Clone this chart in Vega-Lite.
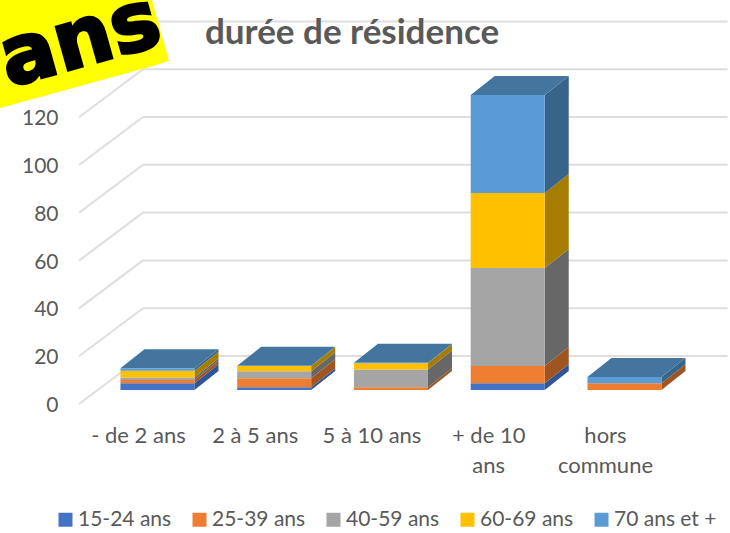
{
"$schema":"https://vega.github.io/schema/vega-lite/v6.json",
"width":651,"height":404,
"autosize":{"type":"none"},
"padding":{"left":79,"top":0,"right":0,"bottom":129},
"background":"white",
"view":{"stroke":null},
"title":{"text":"durée de résidence","anchor":"start","frame":"group","dx":126,"dy":75,"fontSize":35,"font":"Lato","fontWeight":"bold","color":"#595959"},
"datasets":{
"barres":[
{"duree":"- de 2 ans","ordre":0,"age":"15-24 ans","valeur":2.8},
{"duree":"- de 2 ans","ordre":0,"age":"25-39 ans","valeur":1.4},
{"duree":"- de 2 ans","ordre":0,"age":"40-59 ans","valeur":1},
{"duree":"- de 2 ans","ordre":0,"age":"60-69 ans","valeur":2.9},
{"duree":"- de 2 ans","ordre":0,"age":"70 ans et +","valeur":1},
{"duree":"2 à 5 ans","ordre":1,"age":"15-24 ans","valeur":1.1},
{"duree":"2 à 5 ans","ordre":1,"age":"25-39 ans","valeur":3.8},
{"duree":"2 à 5 ans","ordre":1,"age":"40-59 ans","valeur":2.9},
{"duree":"2 à 5 ans","ordre":1,"age":"60-69 ans","valeur":2.2},
{"duree":"2 à 5 ans","ordre":1,"age":"70 ans et +","valeur":0.1},
{"duree":"5 à 10 ans","ordre":2,"age":"15-24 ans","valeur":0},
{"duree":"5 à 10 ans","ordre":2,"age":"25-39 ans","valeur":1.1},
{"duree":"5 à 10 ans","ordre":2,"age":"40-59 ans","valeur":7.5},
{"duree":"5 à 10 ans","ordre":2,"age":"60-69 ans","valeur":2.6},
{"duree":"5 à 10 ans","ordre":2,"age":"70 ans et +","valeur":0.2},
{"duree":"+ de 10 ans","ordre":3,"age":"15-24 ans","valeur":2.8},
{"duree":"+ de 10 ans","ordre":3,"age":"25-39 ans","valeur":7.2},
{"duree":"+ de 10 ans","ordre":3,"age":"40-59 ans","valeur":41},
{"duree":"+ de 10 ans","ordre":3,"age":"60-69 ans","valeur":31.4},
{"duree":"+ de 10 ans","ordre":3,"age":"70 ans et +","valeur":41},
{"duree":"hors commune","ordre":4,"age":"15-24 ans","valeur":0},
{"duree":"hors commune","ordre":4,"age":"25-39 ans","valeur":2.8},
{"duree":"hors commune","ordre":4,"age":"40-59 ans","valeur":0},
{"duree":"hors commune","ordre":4,"age":"60-69 ans","valeur":0},
{"duree":"hors commune","ordre":4,"age":"70 ans et +","valeur":2.6}
],
"grille":[{"t":0},{"t":20},{"t":40},{"t":60},{"t":80},{"t":100},{"t":120},{"t":140}],
"bandeau":[{"a":-1.182,"bas":123.8,"haut":169.04},{"a":0.12,"bas":141.3,"haut":169.04},{"a":0.2655,"bas":143.5,"haut":143.5}],
"mot":[{"a":-0.497,"b":151.9,"txt":"ans"}]
},
"layer":[
{"data":{"name":"grille"},
 "transform":[{"calculate":"datum.t+20.08","as":"t2"},{"calculate":"0.043","as":"a0"},{"calculate":"5.05","as":"a1"}],
 "mark":{"type":"rule","color":"#dedede","strokeWidth":2},
 "encoding":{
  "x":{"field":"a0","type":"quantitative","scale":{"domain":[-0.505,5.071],"nice":false,"zero":false},
   "axis":{"values":[0,1,2,3,4],"title":null,"grid":false,"domain":false,"ticks":false,"labelPadding":21,"labelFont":"Lato","labelFontSize":22,"labelColor":"#595959","labelLineHeight":30,"labelBaseline":"top","labelOverlap":false,"labelFlush":false,
   "labelExpr":"[['- de 2 ans'],['2 à 5 ans'],['5 à 10 ans'],['+ de 10','ans'],['hors','commune']][datum.value]"}},
  "x2":{"field":"a1"},
  "y":{"field":"t2","type":"quantitative","scale":{"domain":[0,169.04],"nice":false,"zero":false},
   "axis":{"values":[0,20,40,60,80,100,120,140],"title":null,"grid":false,"domain":false,"ticks":false,"labelPadding":21,"labelFont":"Lato","labelFontSize":21,"labelOffset":1.5,"labelColor":"#595959"}}
 }},
{"data":{"name":"grille"},
 "transform":[{"calculate":"datum.t+20.08","as":"t2"},{"calculate":"-0.505","as":"a0"},{"calculate":"0.043","as":"a1"}],
 "mark":{"type":"rule","color":"#dedede","strokeWidth":2},
 "encoding":{
  "x":{"field":"a0","type":"quantitative","scale":{"domain":[-0.505,5.071],"nice":false,"zero":false}},
  "x2":{"field":"a1"},
  "y":{"field":"t","type":"quantitative","scale":{"domain":[0,169.04],"nice":false,"zero":false}},
  "y2":{"field":"t2"}
 }},
{"data":{"name":"barres"},
 "transform":[
  {"stack":"valeur","groupby":["duree"],"sort":[{"field":"age"}],"as":["y0","y1"]},
  {"calculate":"[0,1]","as":"k"},{"flatten":["k"]},
  {"calculate":"datum.ordre+0.484+datum.k*0.2056","as":"xc"},
  {"calculate":"datum.y0+5.86+datum.k*7.95","as":"yb"},
  {"calculate":"datum.y1+5.86+datum.k*7.95","as":"yh"}
 ],
 "mark":{"type":"area","interpolate":"linear"},
 "encoding":{
  "x":{"field":"xc","type":"quantitative","scale":{"domain":[-0.505,5.071],"nice":false,"zero":false}},
  "y":{"field":"yb","type":"quantitative","stack":null,"scale":{"domain":[0,169.04],"nice":false,"zero":false}},
  "y2":{"field":"yh"},
  "detail":{"field":"duree"},
  "color":{"field":"age","type":"nominal","legend":null,"scale":{"domain":["15-24 ans","25-39 ans","40-59 ans","60-69 ans","70 ans et +"],"range":["#2f5597","#9e5520","#676767","#a67d00","#39648a"]}}
 }},
{"data":{"name":"barres"},
 "transform":[
  {"stack":"valeur","groupby":["duree"],"sort":[{"field":"age"}],"as":["y0","y1"]},
  {"filter":"datum.age==='70 ans et +'"},
  {"calculate":"[0,1,2,3]","as":"k"},{"flatten":["k"]},
  {"calculate":"datum.ordre-0.15+[0,0.2056,0.634,0.8396][datum.k]","as":"xc"},
  {"calculate":"datum.y1+5.86+[0,0,0,7.95][datum.k]","as":"yb"},
  {"calculate":"datum.y1+5.86+[0,7.95,7.95,7.95][datum.k]","as":"yh"}
 ],
 "mark":{"type":"area","interpolate":"linear","color":"#44759f"},
 "encoding":{
  "x":{"field":"xc","type":"quantitative","scale":{"domain":[-0.505,5.071],"nice":false,"zero":false}},
  "y":{"field":"yb","type":"quantitative","stack":null,"scale":{"domain":[0,169.04],"nice":false,"zero":false}},
  "y2":{"field":"yh"},
  "detail":{"field":"duree"}
 }},
{"data":{"name":"barres"},
 "transform":[
  {"stack":"valeur","groupby":["duree"],"sort":[{"field":"age"}],"as":["y0","y1"]},
  {"calculate":"datum.ordre-0.15","as":"xg"},
  {"calculate":"datum.ordre+0.484","as":"xd"},
  {"calculate":"datum.y0+5.86","as":"yb"},
  {"calculate":"datum.y1+5.86","as":"yh"}
 ],
 "mark":{"type":"rect"},
 "encoding":{
  "x":{"field":"xg","type":"quantitative","scale":{"domain":[-0.505,5.071],"nice":false,"zero":false}},
  "x2":{"field":"xd"},
  "y":{"field":"yb","type":"quantitative","scale":{"domain":[0,169.04],"nice":false,"zero":false}},
  "y2":{"field":"yh"},
  "color":{"field":"age","type":"nominal","scale":{"domain":["15-24 ans","25-39 ans","40-59 ans","60-69 ans","70 ans et +"],"range":["#4472c4","#ed7d31","#a5a5a5","#ffc000","#5b9bd5"]},
   "legend":{"title":null,"orient":"none","legendX":-24,"legendY":509,"direction":"horizontal","columns":5,"symbolType":"square","symbolSize":196,"symbolStrokeWidth":0,"labelFont":"Lato","labelFontSize":21,"labelColor":"#595959","labelOffset":2,"columnPadding":17,"labelLimit":200}}
 }},
{"data":{"name":"bandeau"},
 "mark":{"type":"area","color":"#ffff00","interpolate":"linear","clip":false},
 "encoding":{
  "x":{"field":"a","type":"quantitative","scale":{"domain":[-0.505,5.071],"nice":false,"zero":false}},
  "y":{"field":"bas","type":"quantitative","stack":null,"scale":{"domain":[0,169.04],"nice":false,"zero":false}},
  "y2":{"field":"haut"}
 }},
{"data":{"name":"mot"},
 "mark":{"type":"text","font":"DejaVu Sans","fontWeight":"bold","fontSize":82,"angle":344.4,"color":"black","stroke":"black","strokeWidth":3,"align":"center","baseline":"middle"},
 "encoding":{
  "x":{"field":"a","type":"quantitative","scale":{"domain":[-0.505,5.071],"nice":false,"zero":false}},
  "y":{"field":"b","type":"quantitative","scale":{"domain":[0,169.04],"nice":false,"zero":false}},
  "text":{"field":"txt"}
 }}
],
"resolve":{"scale":{"color":"independent"}}
}
